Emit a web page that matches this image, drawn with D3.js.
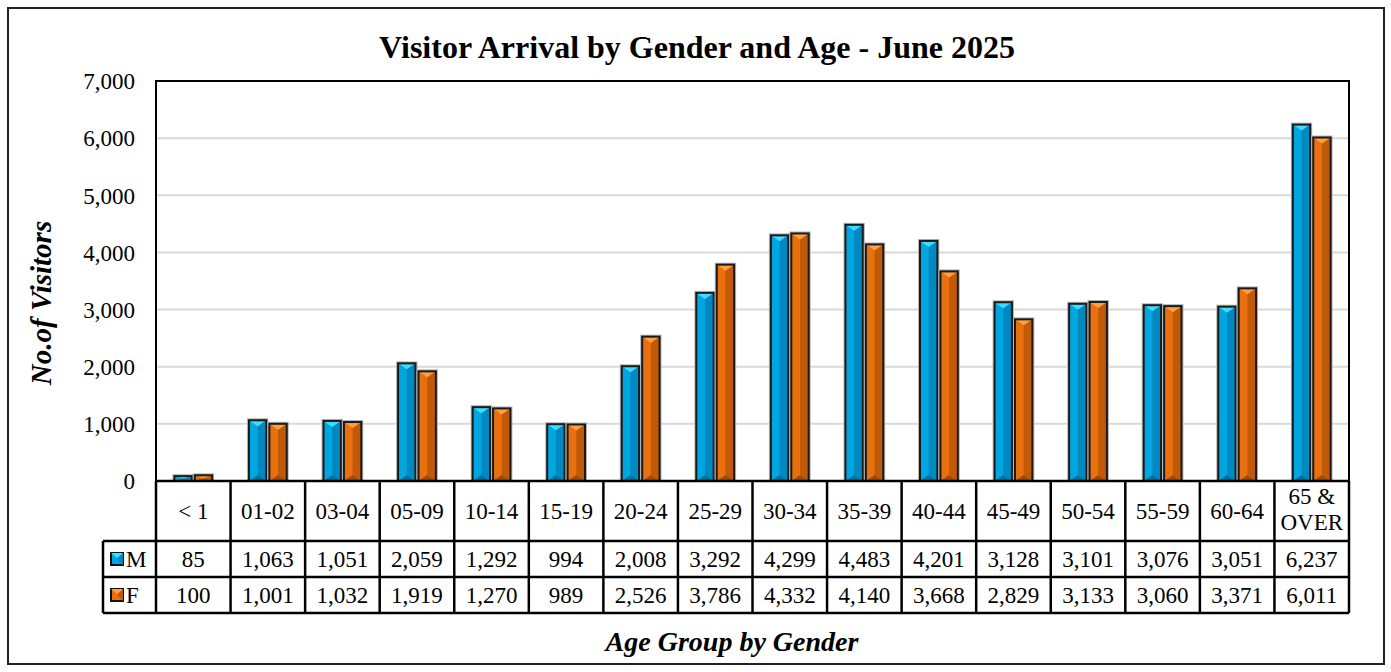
<!DOCTYPE html>
<html><head><meta charset="utf-8">
<script src="https://cdn.jsdelivr.net/npm/d3@7"></script>
<style>body{margin:0;background:#fff}svg{display:block}text{font-family:"Liberation Serif","Times New Roman",serif;fill:#000}</style>
</head><body><svg id="c" width="1391" height="672"></svg>
<script>
const categories = ["< 1","01-02","03-04","05-09","10-14","15-19","20-24","25-29","30-34","35-39","40-44","45-49","50-54","55-59","60-64","65 & OVER"];
const maleValues = [85,1063,1051,2059,1292,994,2008,3292,4299,4483,4201,3128,3101,3076,3051,6237];
const femaleValues = [100,1001,1032,1919,1270,989,2526,3786,4332,4140,3668,2829,3133,3060,3371,6011];
const seriesNames = ["M","F"];
const yTicks = [0,1000,2000,3000,4000,5000,6000,7000];

const svg = d3.select("#c");
const L=156,R=1349,T=81,B=481;
const fmt = d3.format(",");
const FS = 23;
const x = d3.scaleBand().domain(categories).range([L,R]).paddingInner(0).paddingOuter(0);
const xs = d3.scaleBand().domain(seriesNames).range([0,x.bandwidth()]).paddingInner(0.15).paddingOuter(0.9);
const y = d3.scaleLinear().domain([0,7000]).range([B,T]);

// outer border
svg.append("rect").attr("x",8).attr("y",8).attr("width",1376).attr("height",656).attr("fill","#fff").attr("stroke","#222").attr("stroke-width",2);

// title
svg.append("text").attr("x",697).attr("y",58).attr("text-anchor","middle").attr("font-size",32).attr("font-weight","bold").text("Visitor Arrival by Gender and Age - June 2025");

// gridlines
svg.append("g").selectAll("line").data(yTicks.filter(d=>d>0&&d<7000)).join("line")
 .attr("x1",L).attr("x2",R).attr("y1",d=>y(d)).attr("y2",d=>y(d)).attr("stroke","#d9d9d9").attr("stroke-width",2);

// y axis labels
const ya = svg.append("g").attr("transform",`translate(${L},0)`).call(d3.axisLeft(y).tickValues(yTicks).tickFormat(fmt).tickSize(0).tickPadding(21));
ya.select(".domain").remove();
ya.attr("font-family",null).attr("font-size",null);
ya.selectAll("text").attr("font-size",FS).attr("fill","#000").attr("dy","0.34em");

// y title
svg.append("text").attr("transform","translate(51,303) rotate(-90)").attr("text-anchor","middle").attr("font-size",29).attr("font-weight","bold").attr("font-style","italic").text("No.of Visitors");

// bars
const colors = {
 M:{base:"#00a6e0",right:"#0088c0",top:"#3fdcff",bot:"#0070a0"},
 F:{base:"#e8700e",right:"#c05a08",top:"#ffa040",bot:"#a04a05"}
};
const data = [];
categories.forEach((c,i)=>{data.push({c,s:"M",v:maleValues[i]});data.push({c,s:"F",v:femaleValues[i]});});
const bars = svg.append("g").selectAll("g").data(data).join("g");
bars.each(function(d){
  const g=d3.select(this);
  const x0=x(d.c)+xs(d.s), w=xs.bandwidth(), x1=x0+w, y0=y(d.v), y1=y(0), xc=x0+w/2;
  const col=colors[d.s];
  const h=y1-y0; const bv=Math.min(6,h/2);
  g.append("rect").attr("x",x0-1).attr("y",y0-1).attr("width",w+2).attr("height",h+1).attr("fill","none").attr("stroke","#b5b5b5").attr("stroke-width",2);
  g.append("rect").attr("x",x0).attr("y",y0).attr("width",w).attr("height",h).attr("fill",col.base);
  g.append("polygon").attr("points",`${xc},${y0+bv} ${x1},${y0} ${x1},${y1} ${xc},${y1-bv}`).attr("fill",col.right);
  g.append("polygon").attr("points",`${x0},${y0} ${x1},${y0} ${xc},${y0+bv}`).attr("fill",col.top);
  g.append("polygon").attr("points",`${x0},${y1} ${x1},${y1} ${xc},${y1-bv}`).attr("fill",col.bot);
  g.append("rect").attr("x",x0).attr("y",y0).attr("width",w).attr("height",h).attr("fill","none").attr("stroke","#1a1a1a").attr("stroke-width",2);
});

// plot frame
svg.append("path").attr("d",`M${L},${B} V${T} H${R} V${B}`).attr("fill","none").attr("stroke","#000").attr("stroke-width",2);

// data table
const hdrB=541, mB=577, fB=613, legL=103;
const tg=svg.append("g").attr("stroke","#000").attr("stroke-width",2.5);
tg.append("line").attr("x1",L).attr("x2",R).attr("y1",B).attr("y2",B);
tg.append("line").attr("x1",legL).attr("x2",R).attr("y1",hdrB).attr("y2",hdrB);
tg.append("line").attr("x1",legL).attr("x2",R).attr("y1",mB).attr("y2",mB);
tg.append("line").attr("x1",legL).attr("x2",R).attr("y1",fB).attr("y2",fB);
tg.append("line").attr("x1",legL).attr("x2",legL).attr("y1",hdrB).attr("y2",fB);
tg.selectAll(".v").data(categories.concat(["_end"])).join("line")
 .attr("x1",(d,i)=>L+i*x.bandwidth()).attr("x2",(d,i)=>L+i*x.bandwidth()).attr("y1",B).attr("y2",fB);

// headers
svg.append("g").selectAll("text").data(categories).join("text")
 .attr("x",d=>x(d)+x.bandwidth()/2).attr("text-anchor","middle").attr("font-size",FS)
 .each(function(d){
   const t=d3.select(this);
   if(d==="65 & OVER"){
     t.attr("y",504); t.append("tspan").attr("x",x(d)+x.bandwidth()/2).text("65 &");
     t.append("tspan").attr("x",x(d)+x.bandwidth()/2).attr("dy",26).text("OVER");
   } else t.attr("y",519).text(d);
 });
// values
[[maleValues,567],[femaleValues,603]].forEach(([vals,yy])=>{
  svg.append("g").selectAll("text").data(vals).join("text")
   .attr("x",(d,i)=>x(categories[i])+x.bandwidth()/2).attr("y",yy).attr("text-anchor","middle").attr("font-size",FS).text(d=>fmt(d));
});
// legend keys
seriesNames.forEach((s,i)=>{
  const cy = i===0?559:595, kx=111, ks=12, ky=cy-ks/2;
  const col=colors[s];
  svg.append("rect").attr("x",kx).attr("y",ky).attr("width",ks).attr("height",ks).attr("fill",col.base).attr("stroke","#111").attr("stroke-width",2);
  svg.append("polygon").attr("points",`${kx+ks/2},${ky+ks/2} ${kx+ks},${ky} ${kx+ks},${ky+ks}`).attr("fill",col.right);
  svg.append("polygon").attr("points",`${kx},${ky} ${kx+ks},${ky} ${kx+ks/2},${ky+ks/2-1}`).attr("fill",col.top);
  svg.append("text").attr("x",126).attr("y",cy+8).attr("font-size",FS).text(s);
});

// x title
svg.append("text").attr("x",732).attr("y",651).attr("text-anchor","middle").attr("font-size",28).attr("font-weight","bold").attr("font-style","italic").text("Age Group by Gender");
</script></body></html>
